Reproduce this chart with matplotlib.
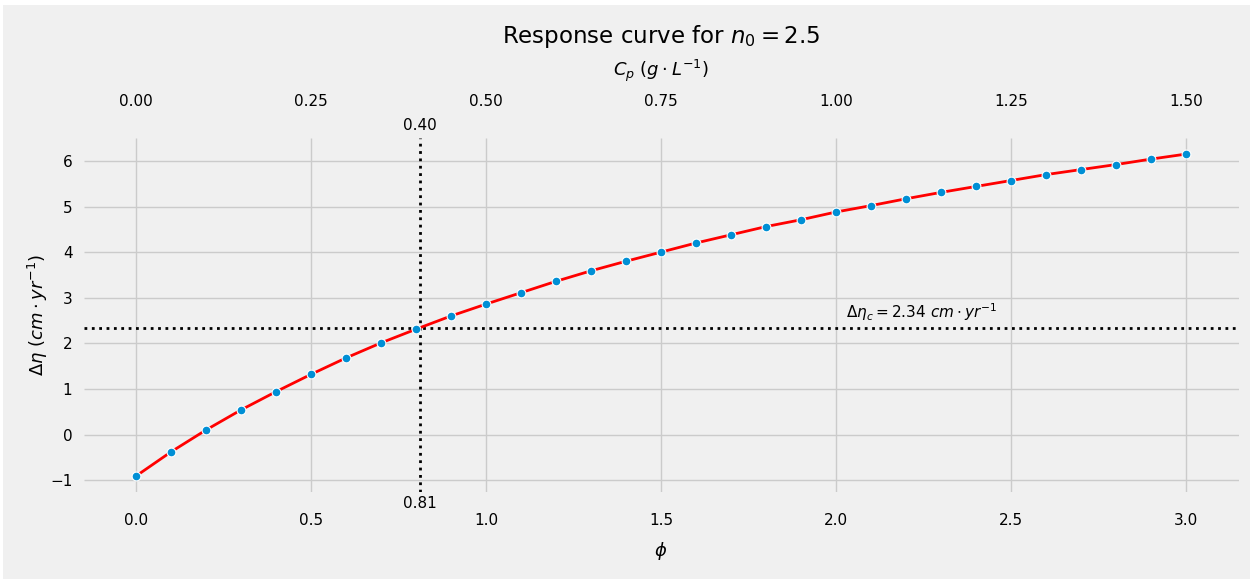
#!/usr/bin/env python3

import matplotlib
matplotlib.use("Agg")
import matplotlib.pyplot as plt
from matplotlib.patches import Rectangle

plt.style.use("fivethirtyeight")

# phi values and response
phi = [0.0, 0.1, 0.2, 0.3, 0.4, 0.5, 0.6, 0.7, 0.8, 0.9,
       1.0, 1.1, 1.2, 1.3, 1.4, 1.5, 1.6, 1.7, 1.8, 1.9,
       2.0, 2.1, 2.2, 2.3, 2.4, 2.5, 2.6, 2.7, 2.8, 2.9, 3.0]
delta_eta = [-0.91, -0.38, 0.10, 0.54, 0.94, 1.32, 1.68, 2.01, 2.31, 2.60,
             2.86, 3.11, 3.36, 3.59, 3.80, 4.00, 4.20, 4.38, 4.56, 4.71,
             4.88, 5.02, 5.17, 5.31, 5.44, 5.57, 5.70, 5.81, 5.92, 6.04, 6.15]

eta_crit = 2.34
phi_crit = 0.81
cp_crit = 0.40
n0 = 2.5

fig = plt.figure(figsize=(12.5, 5.79), dpi=100, facecolor="#f0f0f0")
# thin white strip at top and left, as in the reference
fig.patches.append(Rectangle((0, 1 - 5 / 579), 1, 5 / 579, transform=fig.transFigure,
                             facecolor="white", edgecolor="none"))
fig.patches.append(Rectangle((0, 0), 3 / 1250, 1, transform=fig.transFigure,
                             facecolor="white", edgecolor="none"))

ax = fig.add_axes([0.0668, 0.150, 0.924, 0.6117])
ax.set_facecolor("#f0f0f0")

ax.plot(phi, delta_eta, color="red", lw=2, zorder=3)
ax.scatter(phi, delta_eta, s=40, color="#008fd5", edgecolor="white", linewidth=0.8, zorder=4)

ax.axhline(eta_crit, color="black", ls=":", lw=2, zorder=2)
ax.axvline(phi_crit, color="black", ls=":", lw=2, zorder=2)

ax.text(2.03, eta_crit + 0.1, r"$\Delta\eta_c = %.2f\ cm \cdot yr^{-1}$" % eta_crit,
        fontsize=11, ha="left", va="bottom")
ax.text(phi_crit, -0.01, "%.2f" % phi_crit, transform=ax.get_xaxis_transform(),
        fontsize=11, ha="center", va="top")
ax.text(phi_crit, 1.015, "%.2f" % cp_crit, transform=ax.get_xaxis_transform(),
        fontsize=11, ha="center", va="bottom")

ax.set_xlabel(r"$\phi$", fontsize=13, labelpad=9)
ax.set_ylabel(r"$\Delta\eta\ (cm \cdot yr^{-1})$", fontsize=13, labelpad=0)
ax.tick_params(axis="both", labelsize=11, length=0, pad=15)
ax.tick_params(axis="y", pad=8)
for s in ax.spines.values():
    s.set_visible(False)

ax2 = ax.twiny()
x0, x1 = ax.get_xlim()
ax2.set_xlim(x0 / 2, x1 / 2)
ax2.set_xticks([0.0, 0.25, 0.5, 0.75, 1.0, 1.25, 1.5])
ax2.set_xticklabels(["0.00", "0.25", "0.50", "0.75", "1.00", "1.25", "1.50"])
ax2.tick_params(axis="x", labelsize=11, length=0, pad=21)
ax2.set_xlabel(r"$C_p\ (g \cdot L^{-1})$", fontsize=13)
ax2.xaxis.set_label_coords(0.5, 1 + 62 / 354)
ax2.grid(False)
for s in ax2.spines.values():
    s.set_visible(False)

ax2.set_title(r"Response curve for $n_0 = %.1f$" % n0, fontsize=16.5, y=1 + 95 / 354, pad=0)

fig.savefig("out.png", dpi=100, facecolor=fig.get_facecolor())
